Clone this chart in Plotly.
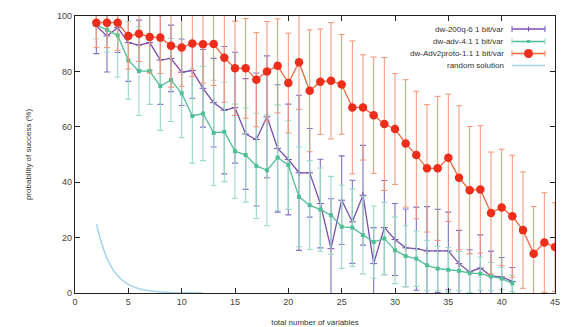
import plotly.graph_objects as go

# ---------------- data ----------------
x_purple = list(range(2, 42))
y_purple = [96.4, 92.8, 95.8, 90.4, 89.5, 90.4, 84.1, 84.7, 79.7, 80.3,
            73.9, 68.7, 66.0, 66.9, 57.4, 55.4, 63.6, 52.2, 48.2, 43.4,
            43.4, 32.3, 16.0, 33.5, 25.7, 35.3, 10.6, 23.6, 19.3, 16.3,
            16.0, 15.2, 15.2, 15.2, 10.6, 7.6, 9.0, 6.1, 5.8, 4.2]
e_purple = [10, 13, 9, 14, 9, 10, 16, 12, 12, 10,
            14, 16, 23, 20, 20, 24, 22, 23, 20, 28,
            16, 16, 18, 16, 15, 18, 13, 17, 13, 14,
            15, 16, 15, 14, 12, 8, 12, 9, 7, 5]

x_green = list(range(2, 42))
y_green = [96.7, 95.0, 93.0, 84.0, 80.1, 80.1, 74.7, 76.9, 72.1, 63.9,
           64.8, 57.8, 58.2, 51.2, 49.8, 45.9, 44.3, 48.9, 46.2, 34.7,
           31.7, 30.1, 28.1, 23.9, 23.6, 20.9, 18.4, 19.7, 15.4, 13.3,
           12.4, 10.0, 8.8, 8.4, 8.0, 7.2, 7.0, 6.0, 5.2, 3.5]
e_green = [5, 8, 15, 14, 16, 12, 16, 15, 16, 17,
           17, 19, 18, 17, 17, 19, 20, 19, 16, 18,
           16, 15, 14, 15, 14, 14, 13, 13, 12, 11,
           10, 9, 8, 8, 7, 7, 6, 5, 4, 3]

x_red = list(range(2, 46))
y_red = [97.6, 97.6, 97.6, 92.8, 93.6, 92.4, 92.2, 89.3, 88.6, 90.1,
         89.8, 89.9, 84.9, 81.1, 81.1, 77.0, 80.0, 82.0, 75.8, 83.3,
         73.0, 76.3, 76.6, 75.3, 67.0, 67.0, 64.2, 61.0, 59.2, 54.0,
         49.8, 45.0, 45.0, 48.8, 41.6, 37.1, 37.4, 28.9, 30.9, 27.7,
         22.7, 14.2, 18.2, 16.6]
e_red = [9, 9, 10, 12, 10, 13, 13, 15, 14, 12,
         14, 15, 16, 17, 18, 17, 18, 17, 18, 17,
         22, 19, 21, 18, 24, 19, 21, 24, 20, 23,
         23, 23, 26, 23, 26, 23, 23, 22, 21, 22,
         21, 17, 18, 16]

x_rand = [2, 3, 4, 5, 6, 7, 8, 9, 10, 11, 12]
y_rand = [25.0, 12.5, 6.25, 3.13, 1.56, 0.78, 0.39, 0.2, 0.1, 0.05, 0.02]

x_ticks = [0, 5, 10, 15, 20, 25, 30, 35, 40, 45]
y_ticks = [0, 20, 40, 60, 80, 100]

names = ["dw-200q-6 1 bit/var", "dw-adv-4.1 1 bit/var",
         "dw-Adv2proto-1.1 1 bit/var", "random solution"]

# ---------------- styles ----------------
C_PURPLE = "#7a4fb0"
C_PURPLE_E = "#7f72c8"
C_GREEN = "#4fbf94"
C_GREEN_E = "#9adbc2"
C_RED = "#ef2d1b"
C_RED_L = "#f0683c"
C_RED_E = "#f59274"
C_RAND = "#a9d3ee"
FONT = "Liberation Sans, Arial, sans-serif"

fig = go.Figure()

fig.add_trace(go.Scatter(
    x=x_purple, y=y_purple, mode="lines+markers", name=names[0],
    line=dict(color=C_PURPLE, width=1.3),
    marker=dict(symbol="cross-thin", size=5, line=dict(color=C_PURPLE, width=1)),
    error_y=dict(type="data", array=e_purple, visible=True, color=C_PURPLE_E,
                 thickness=1.1, width=3),
    showlegend=False))

fig.add_trace(go.Scatter(
    x=x_green, y=y_green, mode="lines+markers", name=names[1],
    line=dict(color=C_GREEN, width=1.3),
    marker=dict(symbol="square", size=4, color=C_GREEN),
    error_y=dict(type="data", array=e_green, visible=True, color=C_GREEN_E,
                 thickness=1.1, width=3),
    showlegend=False))

fig.add_trace(go.Scatter(
    x=x_red, y=y_red, mode="lines+markers", name=names[2],
    line=dict(color=C_RED_L, width=1.3),
    marker=dict(symbol="circle", size=8.5, color=C_RED),
    error_y=dict(type="data", array=e_red, visible=True, color=C_RED_E,
                 thickness=1.0, width=3),
    showlegend=False))

fig.add_trace(go.Scatter(
    x=x_rand, y=y_rand, mode="lines", name=names[3],
    line=dict(color=C_RAND, width=1.5, shape="spline"),
    showlegend=False))

# ---------------- custom legend (gnuplot style: text left, sample right) ----
L, R, T, B = 75, 555, 16, 293
def px(xp):
    return (xp - L) / (R - L)
def py(yp):
    return (B - yp) / (B - T)

rows = [29, 41.5, 53.5, 65.5]
samples = [(C_PURPLE, C_PURPLE_E, "plus"), (C_GREEN, C_GREEN_E, "sq"),
           (C_RED_L, C_RED_E, "dot"), (C_RAND, None, None)]
annotations = []
shapes = []
for name, yr, (lc, ec, mk) in zip(names, rows, samples):
    annotations.append(dict(x=px(506), y=py(yr), xref="paper", yref="paper",
                            text=name, showarrow=False, xanchor="right",
                            yanchor="middle",
                            font=dict(size=8, color="#333", family=FONT)))
    x0, x1 = px(512), px(545)
    shapes.append(dict(type="line", xref="paper", yref="paper",
                       x0=x0, x1=x1, y0=py(yr), y1=py(yr),
                       line=dict(color=lc, width=1.3)))
    if ec:
        for xe in (512, 545):
            shapes.append(dict(type="line", xref="paper", yref="paper",
                               x0=px(xe), x1=px(xe), y0=py(yr - 3), y1=py(yr + 3),
                               line=dict(color=ec, width=1.2)))
    if mk == "dot":
        shapes.append(dict(type="circle", xref="paper", yref="paper",
                           x0=px(524), x1=px(533), y0=py(yr + 4.5), y1=py(yr - 4.5),
                           fillcolor=C_RED, line=dict(color=C_RED, width=0)))
    elif mk == "plus":
        shapes.append(dict(type="line", xref="paper", yref="paper",
                           x0=px(528.5), x1=px(528.5), y0=py(yr + 2.5), y1=py(yr - 2.5),
                           line=dict(color=lc, width=1)))
    elif mk == "sq":
        shapes.append(dict(type="rect", xref="paper", yref="paper",
                           x0=px(527), x1=px(530), y0=py(yr + 1.5), y1=py(yr - 1.5),
                           fillcolor=lc, line=dict(color=lc, width=0)))

fig.update_layout(
    width=563, height=327,
    margin=dict(l=L, r=563 - R, t=T, b=327 - B),
    paper_bgcolor="white", plot_bgcolor="white",
    font=dict(family=FONT, size=9, color="#333"),
    showlegend=False,
    annotations=annotations,
    shapes=shapes,
)

fig.update_xaxes(
    range=[0, 45], tickvals=x_ticks, ticktext=[str(v) for v in x_ticks],
    showgrid=False, zeroline=False, automargin=False,
    showline=True, linecolor="#222", linewidth=1.3, mirror="ticks",
    ticks="inside", ticklen=5, tickcolor="#222", tickwidth=1,
    tickfont=dict(size=9, color="#444", family=FONT),
    title=dict(text="total number of variables", standoff=18,
               font=dict(size=8, color="#333", family=FONT)),
)
fig.update_yaxes(
    range=[0, 100], tickvals=y_ticks, ticktext=[str(v) for v in y_ticks],
    showgrid=False, zeroline=False, automargin=False,
    showline=True, linecolor="#222", linewidth=1.3, mirror="ticks",
    ticks="inside", ticklen=5, tickcolor="#222", tickwidth=1,
    tickfont=dict(size=9, color="#444", family=FONT),
    title=dict(text="probability of success (%)", standoff=24,
               font=dict(size=8, color="#333", family=FONT)),
)

fig.write_html(
    "out.html",
    config={"displayModeBar": False},
    post_script="document.body.style.margin='0';document.body.style.overflow='hidden';",
)
